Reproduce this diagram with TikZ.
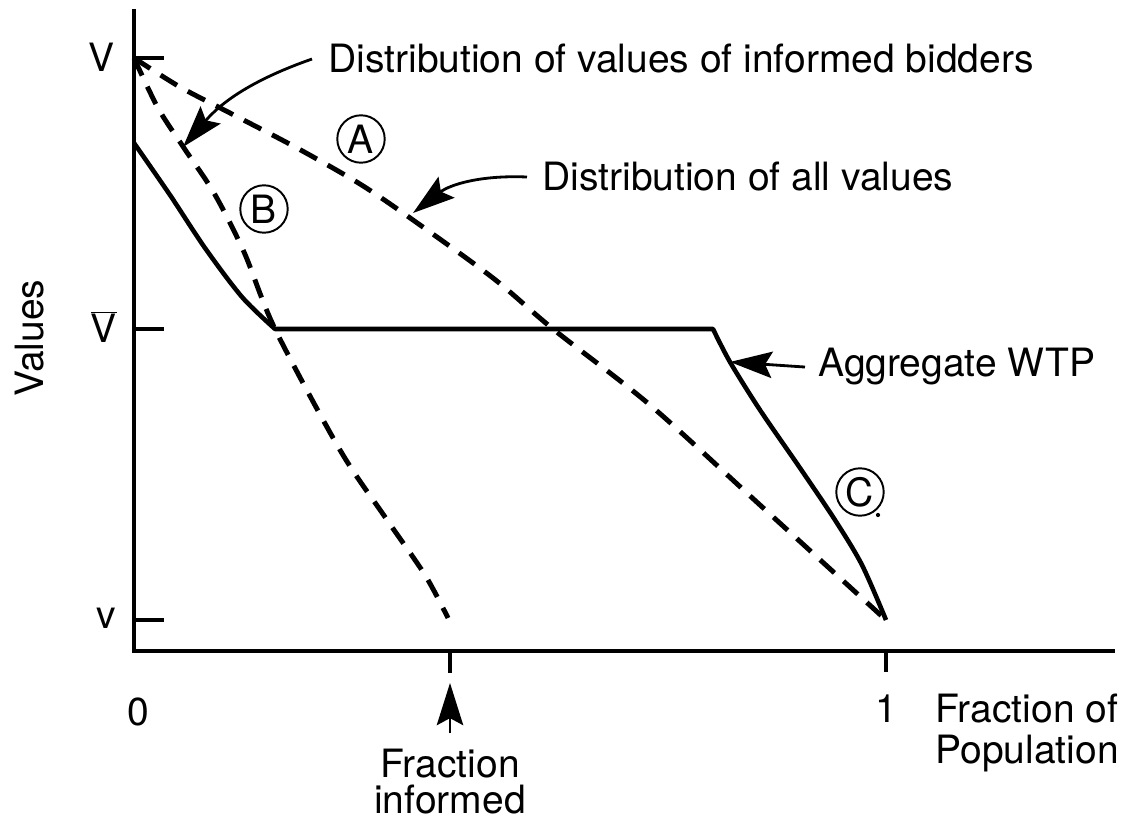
\documentclass[tikz,border=0pt]{standalone}
\usepackage{fontspec}
\setmainfont{TeX Gyre Heros}
\usetikzlibrary{arrows.meta}
\begin{document}
\begin{tikzpicture}[x=0.02cm,y=-0.02cm,
  lbl/.style={inner sep=0pt, font=\fontsize{22.2}{26}\selectfont},
  axisline/.style={line width=2.2pt},
  solidc/.style={line width=2.6pt, line join=round},
  dashc/.style={line width=2.8pt, dash pattern=on 11pt off 7pt},
  arr/.style={line width=1.6pt, -{Stealth[length=24pt,width=15pt,inset=4pt]}},
  circ/.style={circle, draw, line width=1.1pt, minimum size=27pt, inner sep=0pt, font=\fontsize{22.2}{26}\selectfont}]
\useasboundingbox (0,0) rectangle (1134,824);
% axes
\coordinate (O) at (134,651);
\coordinate (ytop) at (134,9);
\coordinate (xend) at (1115,651);
\draw[axisline] (ytop) -- (O) -- (xend);
\coordinate (Vp) at (134,58);
\coordinate (Vbp) at (134,329);
\coordinate (vp) at (134,620);
\coordinate (xi) at (450,651);
\coordinate (xone) at (886,651);
\draw[axisline] (Vp) -- ++(30,0);
\draw[axisline] (Vbp) -- ++(30,0);
\draw[axisline] (vp) -- ++(30,0);
\draw[axisline] (xi) -- ++(0,22);
\draw[axisline] (xone) -- ++(0,21);
% axis labels
\node[lbl, anchor=base] (lV) at (102,72) {V};
\node[lbl, anchor=base] (lVb) at (104,343) {$\overline{\hbox{V}}$};
\node[lbl, anchor=base] (lv) at (106,628) {v};
\node[lbl, anchor=base] (lzero) at (138,725) {0};
\node[lbl, anchor=base] (lone) at (886,723) {1};
\node[lbl, anchor=base west] (fpa) at (935,723) {Fraction of};
\node[lbl, anchor=base west] (fpb) at (935,763) {Population};
\node[lbl, anchor=base] (fia) at (450,777) {Fraction};
\node[lbl, anchor=base] (fib) at (450,813) {informed};
\node[lbl, rotate=90, anchor=base] (lval) at (43,338) {Values};
% curves
\draw[dashc] plot[smooth] coordinates {(134,58) (180,87) (230,113) (297,148) (360,184) (413,220) (493,278) (553,329) (650,405) (760,505) (886,620)};
\draw[dashc] plot[smooth] coordinates {(134,58) (158,108) (184,148) (214,193) (244,252) (275,329) (340,450) (385,517) (425,575) (448,618)};
\draw[solidc] plot[smooth] coordinates {(134,143) (170,195) (205,248) (242,297) (275,329)} -- plot[smooth] coordinates {(713,329) (730,362) (760,410) (800,468) (835,520) (862,565) (886,620)};
% circled labels
\node[circ] (cA) at (361,139) {A};
\node[circ] (cB) at (264,209) {B};
\node[circ] (cC) at (860,492) {C};
\fill (878,515) circle (1.2pt);
% annotation texts and arrows
\node[lbl, anchor=base west] (tib) at (328,73) {Distribution of values of informed bidders};
\node[lbl, anchor=base west] (tall) at (542,191) {Distribution of all values};
\node[lbl, anchor=base west] (tagg) at (818,377) {Aggregate WTP};
\coordinate (tipB) at (183,147);
\coordinate (tipA) at (413,213);
\coordinate (tipC) at (730,362);
\coordinate (tipI) at (450,683);
\draw[arr] ([xshift=-0.32cm]tib.west) to[bend right=15] (tipB);
\draw[arr] ([xshift=-0.3cm]tall.west) to[bend right=20] (tipA);
\draw[arr] ([xshift=-0.26cm]tagg.west) -- (tipC);
\draw[arr] ([yshift=0.3cm]fia.north) -- (tipI);
\end{tikzpicture}
\end{document}
